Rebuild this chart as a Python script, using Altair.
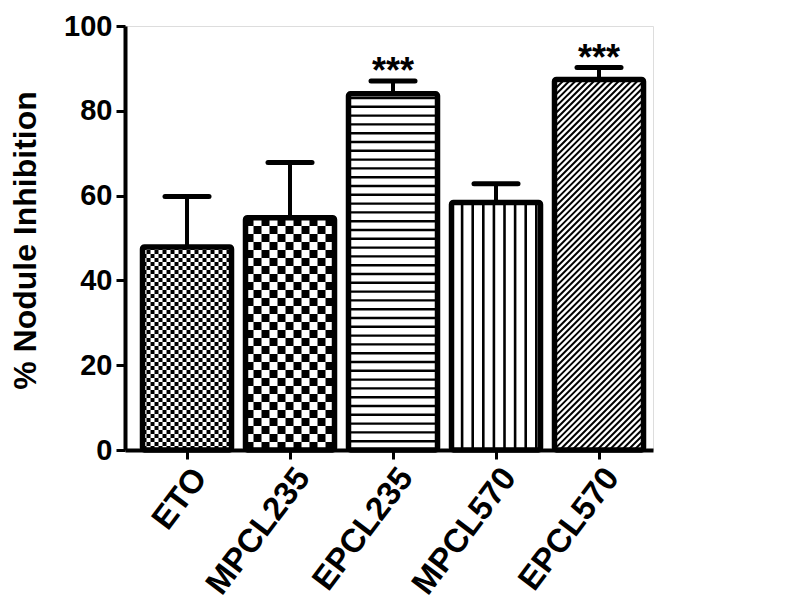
import json
import math
import altair as alt
import pandas as pd

# ---- data ----
cats = ["ETO", "MPCL235", "EPCL235", "MPCL570", "EPCL570"]
means = [47.9, 54.8, 84.0, 58.4, 87.4]
errs = [11.9, 13.0, 3.0, 4.4, 2.8]
stars = ["", "", "***", "", "***"]
patterns = ["checker_fine", "checker_coarse", "hlines", "vlines", "diag"]

# ---- layout ----
TOP = 18
W, H = 528, 450 - 8 - TOP
STEP = 103.0                      # px per category
XMIN = -0.602
XMAX = XMIN + W / STEP
PXX = STEP                        # px per x unit
PXY = H / 100.0                   # px per y unit
HALF = 44.5 / PXX                 # half bar width (units)
CAP = 22.0 / PXX                  # half cap width (units)
FONT = "Liberation Sans"

bars = pd.DataFrame({
    "idx": list(range(len(cats))),
    "cat": cats,
    "mean": means,
    "err": errs,
    "star": stars,
})
bars["top"] = bars["mean"] + bars["err"]
bars["lo"] = bars["idx"] - HALF
bars["hi"] = bars["idx"] + HALF
bars["cl"] = bars["idx"] - CAP
bars["cr"] = bars["idx"] + CAP
bars["zero"] = 0.0

# ---- pattern textures derived from bars ----
rects = []
lines = []
for i, (v, pat) in enumerate(zip(means, patterns)):
    L, R = i - HALF, i + HALF
    bw = 2 * HALF * PXX
    bh = v * PXY
    if pat.startswith("checker"):
        s = 4.0 if pat == "checker_fine" else 8.0
        nx = int(math.ceil(bw / s))
        ny = int(math.ceil(bh / s))
        for cx in range(nx):
            for cy in range(ny):
                if (cx + cy) % 2 == 0:
                    rects.append({
                        "x": L + cx * s / PXX,
                        "x2": min(R, L + (cx + 1) * s / PXX),
                        "y": cy * s / PXY,
                        "y2": min(v, (cy + 1) * s / PXY),
                    })
    elif pat == "hlines":
        s = 8.8
        k = 1
        while k * s < bh:
            yy = k * s / PXY
            lines.append({"x": L, "x2": R, "y": yy, "y2": yy, "w": 2.4})
            k += 1
    elif pat == "vlines":
        s = 10.6
        k = 1
        while k * s < bw - 3:
            xx = L + k * s / PXX
            lines.append({"x": xx, "x2": xx, "y": 0.0, "y2": v, "w": 2.6})
            k += 1
    elif pat == "diag":
        s = 6.2
        c = -bw + s / 2
        while c < bh:
            u1 = max(0.0, -c)
            u2 = min(bw, bh - c)
            if u2 > u1:
                lines.append({
                    "x": L + u1 / PXX, "y": (u1 + c) / PXY,
                    "x2": L + u2 / PXX, "y2": (u2 + c) / PXY, "w": 2.0,
                })
            c += s

rects_df = pd.DataFrame(rects)
lines_df = pd.DataFrame(lines)

# ---- shared scales / axes ----
xscale = alt.Scale(domain=[XMIN, XMAX], nice=False, zero=False)
yscale = alt.Scale(domain=[0, 100], nice=False)
label_expr = json.dumps(cats) + "[datum.value]"
xaxis = alt.Axis(values=list(range(len(cats))), labelExpr=label_expr, title=None,
                 grid=False, labelAngle=-53, labelAlign="right", labelBaseline="top",
                 labelOverlap=False, labelBound=False,
                 tickSize=9, tickWidth=3, domainWidth=4, labelPadding=3,
                 labelFontSize=33, labelFontWeight="bold", labelFont=FONT,
                 labelColor="black", domainColor="black", tickColor="black")
yaxis = alt.Axis(values=[0, 20, 40, 60, 80, 100], title="% Nodule Inhibition",
                 grid=False, tickSize=9, tickWidth=3, domainWidth=4, labelPadding=4,
                 labelFontSize=29, labelFontWeight="bold", labelFont=FONT,
                 labelColor="black", domainColor="black", tickColor="black",
                 labelOverlap=False,
                 titleFontSize=32, titleFontWeight="bold", titleFont=FONT,
                 titleColor="black", titleX=-100, titleY=(240 - 8 - TOP),
                 titleAngle=270, titleAlign="center", titleBaseline="middle")


def X(f):
    return alt.X(f, type="quantitative", scale=xscale, axis=xaxis)


def Y(f):
    return alt.Y(f, type="quantitative", scale=yscale, axis=yaxis)


base = alt.Chart(bars)

bg = base.mark_rect(fill="white", stroke=None).encode(
    x=X("lo"), x2="hi", y=Y("zero"), y2="mean")

checks = alt.Chart(rects_df).mark_rect(fill="black", stroke=None).encode(
    x=X("x"), x2="x2", y=Y("y"), y2="y2")

hatch = alt.Chart(lines_df).mark_rule(color="black").encode(
    x=X("x"), x2="x2", y=Y("y"), y2="y2",
    strokeWidth=alt.StrokeWidth("w:Q", scale=None))

border = base.mark_rect(fillOpacity=0, stroke="black", strokeWidth=5.5,
                        strokeJoin="round", cornerRadius=2).encode(
    x=X("lo"), x2="hi", y=Y("zero"), y2="mean")

stem = base.mark_rule(color="black", strokeWidth=4).encode(
    x=X("idx"), y=Y("mean"), y2="top")

cap = base.mark_rule(color="black", strokeWidth=5, strokeCap="round").encode(
    x=X("cl"), x2="cr", y=Y("top"))

star_txt = base.mark_text(fontSize=36, fontWeight="bold", font=FONT,
                          baseline="alphabetic", dy=2, color="black").encode(
    x=X("idx"), y=Y("top"), text="star:N")

chart = alt.layer(bg, checks, hatch, border, stem, cap, star_txt).properties(
    width=W, height=H,
    autosize=alt.AutoSizeParams(type="none"),
    padding={"left": 117, "top": TOP, "right": 30, "bottom": 150},
).configure_view(stroke=None).configure(background="white")

chart.save("out.html", embed_options={"renderer": "svg", "actions": False})
